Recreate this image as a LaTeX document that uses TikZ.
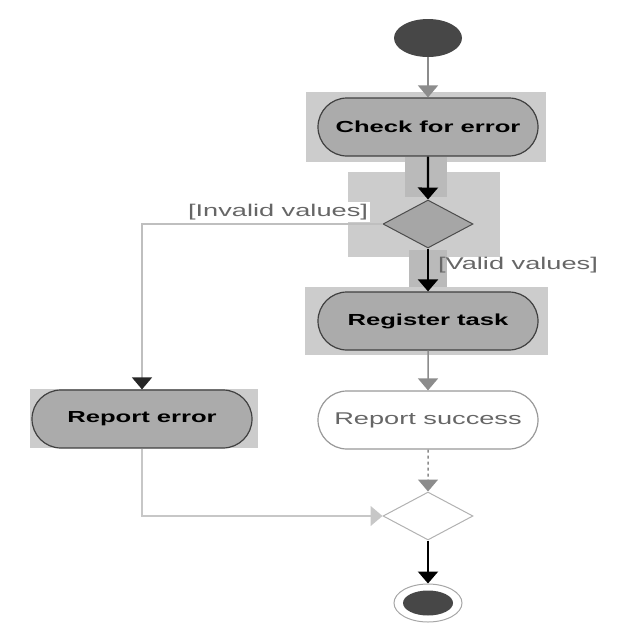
\documentclass[tikz,border=0pt]{standalone}
\usepackage{fontspec}
\newfontfamily\umlfont[FakeStretch=1.6]{Liberation Sans}
\usetikzlibrary{arrows.meta,shapes.misc,shapes.geometric}
\newcommand{\actw}{220pt}

\begin{document}
\begin{tikzpicture}[x=1pt,y=-1pt,
    act/.style={draw=black!75, line width=1.2pt, fill=black!33, rounded rectangle, minimum width=\actw, minimum height=58pt, inner sep=0pt, font=\umlfont\fontsize{16}{18}\selectfont\bfseries},
    actlight/.style={act, draw=black!40, fill=white, text=black!60, font=\umlfont\fontsize{17}{19}\selectfont},
    choice/.style={draw=black!70, line width=1pt, fill=black!35, diamond, aspect=1.9, minimum width=90pt, minimum height=48pt, inner sep=0pt},
    choicelight/.style={choice, draw=black!30, fill=white},
    guard/.style={fill=white, text=black!60, inner sep=2pt, font=\umlfont\fontsize{17}{19}\selectfont},
    hl/.style={fill=black!20},
    hldark/.style={fill=black!27},
    flow/.style={line width=2.2pt, -{Triangle[width=20pt,length=12pt]}},
    flowgray/.style={flow, black!45, line width=1.5pt},
    flowmix/.style={line width=1.5pt, black!25, -{Triangle[width=20pt,length=12pt,color=black!85]}}]

    \useasboundingbox (0,0) rectangle (640,640);

    % Highlight boxes
    \fill[hl] (306,92) rectangle (546,162);
    \fill[hl] (348,172) rectangle (500,257);
    \fill[hldark] (405,157) rectangle (447,197);
    \fill[hldark] (409,250) rectangle (447,290);
    \fill[hl] (305,287) rectangle (548,355);
    \fill[hl] (30,389) rectangle (258,448);

    % Nodes
    \node[ellipse, fill=black!72, minimum width=68pt, minimum height=38pt, inner sep=0pt] (start) at (428,38) {};
    \node[act] (check) at (428,127) {Check for error};
    \node[choice] (decide) at (428,224) {};
    \node[act] (register) at (428,321) {Register task};
    \node[act] (reporterr) at (142,419) {Report error};
    \node[actlight] (success) at (428,420) {Report success};
    \node[choicelight] (merge) at (428,516) {};
    \node[ellipse, draw=black!35, line width=1pt, minimum width=68pt, minimum height=38pt, inner sep=0pt] (stop) at (428,603) {};
    \node[ellipse, fill=black!72, minimum width=50pt, minimum height=25pt, inner sep=0pt] (stopdot) at (stop) {};

    % Flows
    \draw[flowgray] (start) -- (check);
    \draw[flow] (check) -- (decide);
    \draw[flowmix] (decide.west) -| (reporterr.north);
    \node[guard] (invalid) at (278,212) {[Invalid values]};
    \draw[flow] (decide) -- (register);
    \node[guard, fill=none] (valid) at (518,265) {[Valid values]};
    \draw[flowgray] (register) -- (success);
    \draw[flowgray, dashed] (success) -- (merge);
    \draw[flowgray, black!22] (reporterr.south) |- (merge.west);
    \draw[flow] (merge) -- (stop);

\end{tikzpicture}
\end{document}
